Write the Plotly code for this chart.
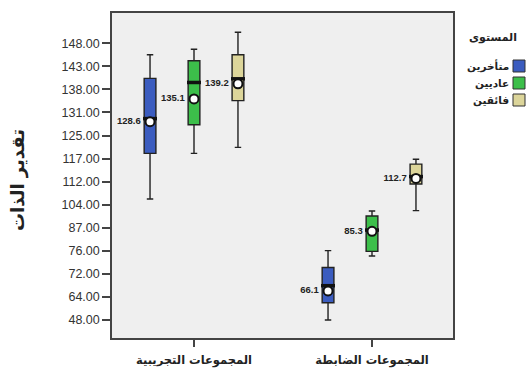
import numpy as np
import plotly.graph_objects as go

# ---------------- data ----------------
groups = ["المجموعات التجريبية", "المجموعات الضابطة"]
levels = ["متأخرين", "عاديين", "فائقين"]
level_colors = ["#3b5cbf", "#3cbf4a", "#dcd59a"]

# irregular tick labels, evenly spaced on the axis (as in the original)
y_ticks = [48, 64, 72, 76, 87, 104, 112, 117, 125, 131, 138, 143, 148]

# per level, values for [experimental, control]
lower = {"متأخرين": [106.0, 48.0], "عاديين": [118.8, 75.1], "فائقين": [120.9, 99.6]}
q1 = {"متأخرين": [118.8, 60.0], "عاديين": [127.8, 75.9], "فائقين": [134.6, 111.2]}
median = {"متأخرين": [129.4, 67.9], "عاديين": [139.5, 85.9], "فائقين": [140.3, 113.1]}
q3 = {"متأخرين": [140.4, 73.1], "عاديين": [144.2, 95.7], "فائقين": [145.5, 115.8]}
upper = {"متأخرين": [145.5, 76.1], "عاديين": [146.7, 99.4], "فائقين": [150.4, 116.85]}
means = {"متأخرين": [128.6, 66.1], "عاديين": [135.1, 85.3], "فائقين": [139.2, 112.7]}

y_title = "تقدير الذات"
legend_title = "المستوى"

# ---------------- scale (piecewise linear on tick labels) ----------------
tick_pos = np.arange(len(y_ticks), dtype=float)
tv = np.array(y_ticks, dtype=float)


def ypos(vals):
    vals = np.asarray(vals, dtype=float)
    out = np.interp(vals, tv, tick_pos)
    hi = vals > tv[-1]
    out[hi] = tick_pos[-1] + (vals[hi] - tv[-1]) / (tv[-1] - tv[-2])
    lo = vals < tv[0]
    out[lo] = (vals[lo] - tv[0]) / (tv[1] - tv[0])
    return out


# ---------------- layout geometry ----------------
W, H = 531, 372
PL, PR, PT, PB = 112, 453, 13, 338
offset = 0.247
box_w = 0.066
group_idx = np.arange(len(groups), dtype=float)

fig = go.Figure()

for i, lv in enumerate(levels):
    xs = group_idx + (i - 1) * offset
    fig.add_trace(go.Box(
        x=xs,
        q1=ypos(q1[lv]), median=ypos(median[lv]), q3=ypos(q3[lv]),
        lowerfence=ypos(lower[lv]), upperfence=ypos(upper[lv]),
        width=box_w, whiskerwidth=0.55,
        fillcolor=level_colors[i],
        line=dict(color="#222222", width=1.4),
        boxpoints=False, name=lv, showlegend=False, hoverinfo="skip",
    ))
    # thick median band
    fig.add_trace(go.Scatter(
        x=xs, y=ypos(median[lv]), mode="markers",
        marker=dict(symbol="line-ew", size=10, line=dict(color="#111111", width=3.5)),
        showlegend=False, hoverinfo="skip",
    ))
    # mean circle + label
    fig.add_trace(go.Scatter(
        x=xs, y=ypos(means[lv]), mode="markers+text",
        marker=dict(symbol="circle", size=9, color="white",
                    line=dict(color="#111111", width=2)),
        text=[f"<b>{m:.1f}</b>&nbsp;" for m in means[lv]],
        textposition="middle left",
        textfont=dict(family="Liberation Sans, Arial", size=9.5, color="#222222"),
        showlegend=False, hoverinfo="skip",
    ))

# x range so that group centers fall at the right pixels
px_per_x = 178.0
x0 = -(194 - PL) / px_per_x
x1 = (PR - 194) / px_per_x
px_per_y = 23.06
y0 = -(PB - 320) / px_per_y
y1 = (320 - PT) / px_per_y

fig.update_layout(
    width=W, height=H,
    margin=dict(l=PL, r=W - PR, t=PT, b=H - PB, pad=0),
    paper_bgcolor="white", plot_bgcolor="#efefef",
    showlegend=False,
    xaxis=dict(
        range=[x0, x1], tickvals=list(group_idx), ticktext=[f"<b>{g}</b>" for g in groups],
        ticks="outside", ticklen=7, tickwidth=1.5, tickcolor="#444444",
        ticklabelstandoff=3, automargin=False,
        showline=True, mirror=True, linecolor="#444444", linewidth=1.5,
        showgrid=False, zeroline=False,
        tickfont=dict(family="DejaVu Sans", size=11.5, color="#222222"),
    ),
    yaxis=dict(
        range=[y0, y1], tickvals=list(tick_pos), ticktext=[f"{v:.2f}" for v in y_ticks],
        ticks="outside", ticklen=8, tickwidth=1.5, tickcolor="#444444",
        automargin=False,
        showline=True, mirror=True, linecolor="#444444", linewidth=1.5,
        showgrid=False, zeroline=False,
        tickfont=dict(family="Liberation Sans, Arial", size=12.5, color="#333333"),
    ),
)

pw, ph = PR - PL, PB - PT


def fx(px):
    return (px - PL) / pw


def fy(py):
    return (PB - py) / ph


# y axis title
fig.add_annotation(x=fx(18), y=fy(180), xref="paper", yref="paper",
                   text=f"<b>{y_title}</b>", textangle=-90, showarrow=False,
                   font=dict(family="DejaVu Sans", size=18, color="#222222"),
                   xanchor="center", yanchor="middle")

# custom right-to-left legend
fig.add_annotation(x=fx(519), y=fy(37), xref="paper", yref="paper",
                   text=f"<b>{legend_title}</b>", showarrow=False,
                   font=dict(family="DejaVu Sans", size=11, color="#222222"),
                   xanchor="right", yanchor="middle")
leg_y = [66, 83, 100]
for i, lv in enumerate(levels):
    cy = leg_y[i]
    fig.add_shape(type="rect", xref="paper", yref="paper",
                  x0=fx(513), x1=fx(525), y0=fy(cy + 6), y1=fy(cy - 6),
                  fillcolor=level_colors[i], line=dict(color="#333333", width=1))
    fig.add_annotation(x=fx(511), y=fy(cy), xref="paper", yref="paper",
                       text=f"<b>{lv}</b>", showarrow=False,
                       font=dict(family="DejaVu Sans", size=10.5, color="#222222"),
                       xanchor="right", yanchor="middle")

fig.write_html("out.html", config={"displayModeBar": False},
               post_script="document.body.style.margin='0';")
